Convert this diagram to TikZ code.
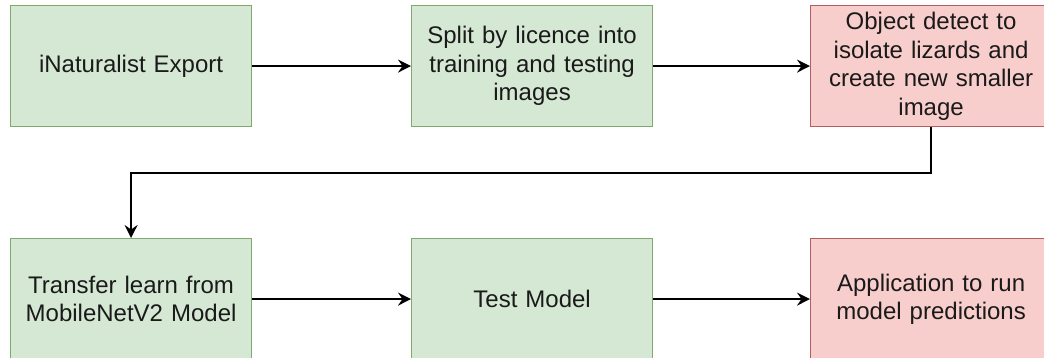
\documentclass[tikz,border=0pt]{standalone}
\usepackage{fontspec}
\setmainfont{Liberation Sans}
\usetikzlibrary{arrows.meta}
\definecolor{gfill}{HTML}{D5E8D4}
\definecolor{gdraw}{HTML}{82A870}
\definecolor{rfill}{HTML}{F8CECC}
\definecolor{rdraw}{HTML}{B06060}
\definecolor{txt}{HTML}{1A1A1A}
\tikzset{
  box/.style={rectangle, draw, line width=1.2pt, minimum width=241pt, minimum height=121pt,
    inner sep=0pt, align=center, text width=236pt, text=txt,
    font=\fontsize{24}{28.5}\selectfont, anchor=north west},
  gbox/.style={box, fill=gfill, draw=gdraw},
  rbox/.style={box, fill=rfill, draw=rdraw},
  conn/.style={line width=1.6pt, -{Stealth[length=13pt,width=13pt,inset=4.5pt]}}
}
\begin{document}
\begin{tikzpicture}[x=1pt,y=-1pt]
\useasboundingbox (0,0) rectangle (1044,358);
\node[gbox] (b1) at (10,5) {iNaturalist Export};
\node[gbox] (b2) at (411,5) {Split by licence into\\training and testing\\images};
\node[rbox] (b3) at (810,5) {Object detect to\\isolate lizards and\\create new smaller\\image};
\node[gbox] (b4) at (10,238) {Transfer learn from\\MobileNetV2 Model};
\node[gbox] (b5) at (411,238) {Test Model};
\node[rbox] (b6) at (810,238) {Application to run\\model predictions};
\coordinate (t1) at (930,173);
\draw[conn] (b1) -- (b2);
\draw[conn] (b2) -- (b3);
\draw[conn] (b3.south) -- (b3.south |- t1) -- (b4.north |- t1) -- (b4.north);
\draw[conn] (b4) -- (b5);
\draw[conn] (b5) -- (b6);
\end{tikzpicture}
\end{document}
